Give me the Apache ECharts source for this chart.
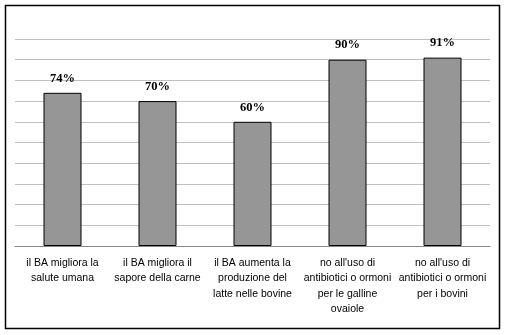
<!DOCTYPE html>
<html>
<head>
<meta charset="utf-8">
<script src="https://cdn.jsdelivr.net/npm/echarts@6/dist/echarts.min.js"></script>
<style>
html,body{margin:0;padding:0;background:#fff;}
#c{width:506px;height:335px;}
</style>
</head>
<body>
<div id="c"></div>
<script>
const categories = [
  "il BA migliora la\nsalute umana",
  "il BA migliora il\nsapore della carne",
  "il BA aumenta la\nproduzione del\nlatte nelle bovine",
  "no all'uso di\nantibiotici o ormoni\nper le galline\novaiole",
  "no all'uso di\nantibiotici o ormoni\nper i bovini"
];
const values = [74, 70, 60, 90, 91];

const chart = echarts.init(document.getElementById('c'), null, {renderer: 'canvas'});
chart.setOption({
  animation: false,
  backgroundColor: '#ffffff',
  graphic: [{
    type: 'rect',
    shape: {x: 5.5, y: 5.5, width: 494, height: 323},
    style: {fill: 'none', stroke: '#000000', lineWidth: 1.5},
    silent: true
  }],
  grid: {left: 15, right: 16, top: 39, bottom: 89, containLabel: false},
  xAxis: {
    type: 'category',
    data: categories,
    axisLine: {show: true, lineStyle: {color: '#868686', width: 1}},
    axisTick: {show: false},
    axisLabel: {
      interval: 0,
      color: '#000000',
      fontFamily: 'Liberation Sans, Arial, sans-serif',
      fontSize: 10.5,
      lineHeight: 15.5,
      margin: 9
    }
  },
  yAxis: {
    type: 'value',
    min: 0,
    max: 100,
    interval: 10,
    axisLine: {show: false},
    axisTick: {show: false},
    axisLabel: {show: false},
    splitLine: {show: true, lineStyle: {color: '#c0c0c0', width: 1}}
  },
  series: [{
    type: 'bar',
    data: values,
    barWidth: '40%',
    itemStyle: {color: '#969696', borderColor: '#000000', borderWidth: 1},
    label: {
      show: true,
      position: 'top',
      distance: 8,
      formatter: '{c}%',
      color: '#000000',
      fontFamily: 'Liberation Serif, Times New Roman, serif',
      fontWeight: 'bold',
      fontSize: 12.5
    }
  }]
});
</script>
</body>
</html>
